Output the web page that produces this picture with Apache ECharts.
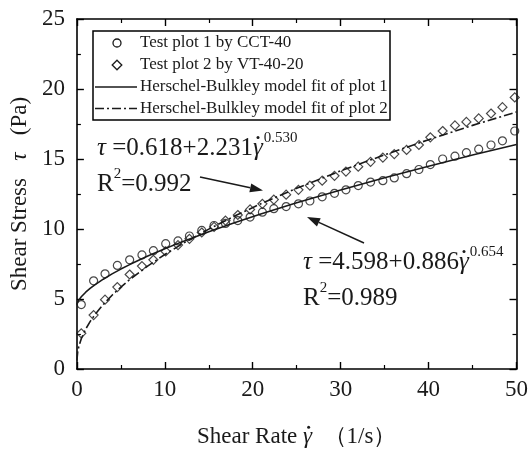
<!DOCTYPE html>
<html><head><meta charset="utf-8">
<script src="https://cdn.jsdelivr.net/npm/echarts@6/dist/echarts.min.js"></script>
<style>html,body{margin:0;padding:0;background:#fff}#c{width:531px;height:449px}</style>
</head><body><div id="c"></div>
<script>
// ---- data ----
const shearRate = [0.5,1.9,3.2,4.6,6.0,7.4,8.7,10.1,11.5,12.8,14.2,15.6,16.9,18.3,19.7,21.1,22.4,23.8,25.2,26.5,27.9,29.3,30.6,32.0,33.4,34.8,36.1,37.5,38.9,40.2,41.6,43.0,44.3,45.7,47.1,48.4,49.8];
const stressPlot1 = [4.6,6.3,6.8,7.4,7.8,8.15,8.45,8.95,9.15,9.5,9.9,10.25,10.4,10.6,10.85,11.2,11.45,11.6,11.8,12.0,12.3,12.55,12.8,13.1,13.35,13.45,13.65,13.95,14.25,14.6,15.0,15.2,15.45,15.7,16.0,16.3,17.0];
const stressPlot2 = [2.55,3.85,4.95,5.85,6.75,7.35,7.8,8.4,8.85,9.3,9.75,10.15,10.6,11.0,11.4,11.8,12.1,12.45,12.8,13.1,13.45,13.8,14.1,14.45,14.8,15.1,15.35,15.65,16.0,16.55,17.0,17.4,17.65,17.9,18.25,18.7,19.4];
const fitRate = [0,0.1,0.25,0.5,1,1.5,2,3,4,5,6,8,10,12,15,18,21,25,30,35,40,45,50];
const fitPlot1 = [4.598,4.795,4.956,5.161,5.484,5.753,5.992,6.415,6.792,7.137,7.458,8.050,8.592,9.098,9.805,10.464,11.086,11.870,12.789,13.659,14.489,15.283,16.04];
const fitPlot2 = [0.618,1.277,1.688,2.165,2.849,3.384,3.839,4.611,5.270,5.854,6.386,7.334,8.176,8.945,9.991,10.941,11.824,12.906,14.152,15.300,16.378,17.402,18.36];
const seriesNames = ['Test plot 1 by CCT-40','Test plot 2 by VT-40-20','Herschel-Bulkley model fit of plot 1','Herschel-Bulkley model fit of plot 2'];
const fit1Text = ['0.618+2.231', '0.530', '0.992'];
const fit2Text = ['4.598+0.886', '0.654', '0.989'];
const xTitle = ['Shear Rate ', 'γ', '  （1/s）'];
const yTitle = 'Shear Stress   {i|τ}   (Pa)';
const xRange = [0, 50, 10];
const yRange = [0, 25, 5];

const serif = "'Liberation Serif','Times New Roman',serif";
const ink = '#1a1a1a';
const zip = (xs, ys) => xs.map((x, i) => [x, ys[i]]);
const mctx = document.createElement('canvas').getContext('2d');
function measure(text, size, italic) { mctx.font = (italic ? 'italic ' : '') + size + 'px ' + serif; return mctx.measureText(text).width; }

function axisBase(showLabel, range, margin) {
  return {
    type: 'value', min: range[0], max: range[1], interval: range[2],
    axisLine: { show: true, onZero: false, lineStyle: { color: '#000', width: 1.6 } },
    axisTick: { show: true, inside: true, length: 7, lineStyle: { color: '#000', width: 1.4 } },
    minorTick: { show: true, splitNumber: 2, length: 4, lineStyle: { color: '#000', width: 1.2 } },
    splitLine: { show: false },
    axisLabel: { show: showLabel, fontFamily: serif, fontSize: 23, color: ink, margin: margin }
  };
}

// text pieces laid out left to right (dot = overdot on the glyph)
function formula(x, y, parts) {
  const els = []; let cx = x;
  parts.forEach(p => {
    const w = measure(p.t, p.size, p.italic);
    els.push({ type: 'text', x: cx, y: y + (p.dy || 0), z: 10,
      style: { text: p.t, fontSize: p.size, fontFamily: serif, fontStyle: p.italic ? 'italic' : 'normal', fill: ink, verticalAlign: 'middle' } });
    if (p.dot) els.push({ type: 'circle', z: 10, shape: { cx: cx + w * (p.dotAt || 0.62), cy: y - p.size * 0.42, r: 1.5 }, style: { fill: ink } });
    cx += w + (p.gap || 0);
  });
  return els;
}
function arrow(tail, tip, len, half) {
  const dx = tip[0] - tail[0], dy = tip[1] - tail[1];
  const L = Math.hypot(dx, dy), ux = dx / L, uy = dy / L;
  const bx = tip[0] - ux * len, by = tip[1] - uy * len;
  return [
    { type: 'line', shape: { x1: tail[0], y1: tail[1], x2: bx, y2: by }, style: { stroke: ink, lineWidth: 1.6 } },
    { type: 'polygon', shape: { points: [tip, [bx - uy * half, by + ux * half], [bx + uy * half, by - ux * half]] }, style: { fill: ink } }
  ];
}
const F = 25, S = 15;
function eqBlock(x, y, t) {
  return formula(x, y, [
    { t: 'τ', size: F, italic: true },
    { t: ' =' + t[0], size: F },
    { t: 'γ', size: F, italic: true, dot: true, dotAt: 0.52, gap: 1 },
    { t: t[1], size: S, dy: -10 }
  ]).concat(formula(x, y + 36, [
    { t: 'R', size: F },
    { t: '2', size: S, dy: -10 },
    { t: '=' + t[2], size: F }
  ]));
}

// boxed legend, like the reference
function legend(x, y) {
  const rows = [43, 65, 87, 108.5].map(v => v - 31 + y);
  const els = [{ type: 'rect', shape: { x: x, y: y, width: 297, height: 89 }, style: { fill: '#fff', stroke: '#000', lineWidth: 1.5 }, z: 20 }];
  els.push({ type: 'circle', shape: { cx: x + 24, cy: rows[0], r: 4 }, style: { fill: 'none', stroke: ink, lineWidth: 1.3 }, z: 21 });
  els.push({ type: 'polygon', shape: { points: [[x + 24, rows[1] - 4.8], [x + 28.8, rows[1]], [x + 24, rows[1] + 4.8], [x + 19.2, rows[1]]] }, style: { fill: 'none', stroke: ink, lineWidth: 1.3 }, z: 21 });
  els.push({ type: 'line', shape: { x1: x + 2, y1: rows[2], x2: x + 44, y2: rows[2] }, style: { stroke: ink, lineWidth: 1.5 }, z: 21 });
  els.push({ type: 'line', shape: { x1: x + 2, y1: rows[3], x2: x + 44, y2: rows[3] }, style: { stroke: ink, lineWidth: 1.5, lineDash: [9, 3, 2, 3] }, z: 21 });
  seriesNames.forEach((n, i) => els.push({ type: 'text', x: x + 47, y: rows[i], z: 21,
    style: { text: n, fontSize: 17, fontFamily: serif, fill: ink, verticalAlign: 'middle' } }));
  return els;
}

const chart = echarts.init(document.getElementById('c'), null, { renderer: 'canvas' });
const symStyle = { color: 'rgba(0,0,0,0)', borderColor: ink, borderWidth: 1.2 };

chart.setOption({
  animation: false,
  backgroundColor: '#fff',
  grid: { left: 75, right: 11, top: 19, bottom: 80, containLabel: false },
  xAxis: [
    Object.assign(axisBase(true, xRange, 9), { position: 'bottom' }),
    Object.assign(axisBase(false, xRange, 9), { position: 'top' })
  ],
  yAxis: [
    Object.assign(axisBase(true, yRange, 12), { position: 'left', name: yTitle, nameLocation: 'middle', nameGap: 42,
      nameTextStyle: { fontFamily: serif, fontSize: 23, color: ink, rich: { i: { fontFamily: serif, fontStyle: 'italic', fontSize: 23, color: ink } } } }),
    Object.assign(axisBase(false, yRange, 12), { position: 'right' })
  ],
  series: [
    { name: seriesNames[0], type: 'scatter', data: zip(shearRate, stressPlot1), symbol: 'circle', symbolSize: 8, itemStyle: symStyle, z: 3 },
    { name: seriesNames[1], type: 'scatter', data: zip(shearRate, stressPlot2), symbol: 'diamond', symbolSize: 9, itemStyle: symStyle, z: 3 },
    { name: seriesNames[2], type: 'line', data: zip(fitRate, fitPlot1), symbol: 'none', lineStyle: { color: ink, width: 1.6, type: 'solid' }, z: 2 },
    { name: seriesNames[3], type: 'line', data: zip(fitRate, fitPlot2), symbol: 'none', lineStyle: { color: ink, width: 1.6, type: [9, 3, 2, 3] }, z: 2 }
  ],
  graphic: [].concat(
    legend(93, 31),
    eqBlock(97, 148, fit1Text),
    eqBlock(303, 262, fit2Text),
    arrow([200, 177], [263, 190.5], 13, 4.5),
    arrow([364, 243], [307, 217], 13, 4.5),
    formula(197, 437, [
      { t: xTitle[0], size: 23 },
      { t: xTitle[1], size: 23, italic: true, dot: true },
      { t: xTitle[2], size: 23 }
    ])
  )
});
</script></body></html>
